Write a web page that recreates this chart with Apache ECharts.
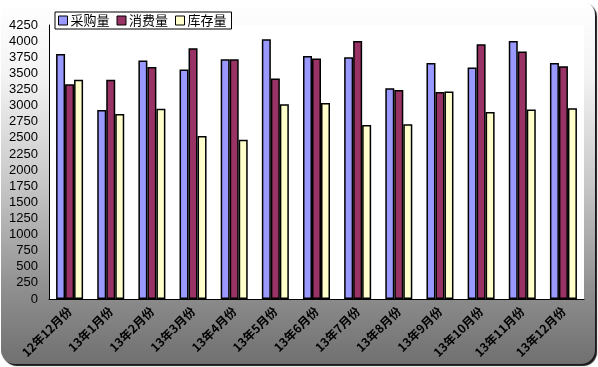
<!DOCTYPE html>
<html><head><meta charset="utf-8">
<script src="https://cdn.jsdelivr.net/npm/echarts@6/dist/echarts.min.js"></script>
<style>html,body{margin:0;padding:0;background:#fff}#c{width:598px;height:367px}</style>
</head><body><div id="c"></div>
<script>
const categories = ['12年12月份','13年1月份','13年2月份','13年3月份','13年4月份','13年5月份','13年6月份','13年7月份','13年8月份','13年9月份','13年10月份','13年11月份','13年12月份'];
const purchase = [3800,2930,3700,3560,3720,4030,3770,3750,3270,3660,3590,4000,3660];
const consume = [3330,3400,3600,3890,3720,3420,3730,4000,3240,3210,3950,3840,3610];
const stock = [3400,2870,2950,2530,2470,3020,3040,2700,2710,3220,2900,2940,2960];
const seriesNames = ['采购量','消费量','库存量'];
const colors = ['#9999FF','#993366','#FFFFCC'];

const chart = echarts.init(document.getElementById('c'));
const font = '"Noto Sans CJK SC", "Liberation Sans", sans-serif';
chart.setOption({
  backgroundColor: '#ffffff',
  animation: false,
  graphic: [{
    type: 'rect', z: -10, silent: true,
    shape: {x: 1, y: 1, width: 594, height: 363, r: 14},
    style: {
      fill: new echarts.graphic.LinearGradient(0, 0, 0, 1, [
        {offset: 0, color: '#ffffff'},
        {offset: 0.2, color: '#f4f4f4'},
        {offset: 0.5, color: '#c8c8c8'},
        {offset: 0.8, color: '#8e8e8e'},
        {offset: 1, color: '#707070'}
      ]),
      shadowColor: 'rgba(0,0,0,0.9)', shadowOffsetX: 2, shadowOffsetY: 2, shadowBlur: 1
    }
  }],
  legend: {
    left: 55, top: 12,
    data: seriesNames,
    itemWidth: 9, itemHeight: 9, itemGap: 7,
    icon: 'rect',
    borderColor: '#000', borderWidth: 1, padding: [2, 5, 2, 3],
    backgroundColor: '#fff',
    textStyle: {fontFamily: font, fontSize: 13, color: '#000', padding: [0,0,0,-2]},
    itemStyle: {borderColor: '#000', borderWidth: 1}
  },
  grid: {left: 49, right: 14, top: 25, bottom: 68, show: true, backgroundColor: '#fff', borderWidth: 0},
  xAxis: {
    type: 'category', data: categories,
    axisLine: {lineStyle: {color: '#000', width: 1}},
    axisTick: {inside: true, length: 4, lineStyle: {color: '#000'}},
    axisLabel: {rotate: 45, interval: 0, fontFamily: font, fontSize: 12, fontWeight: 'bold', color: '#000', margin: 10}
  },
  yAxis: {
    type: 'value', min: 0, max: 4250, interval: 250,
    axisLine: {show: true, lineStyle: {color: '#000', width: 1}},
    axisTick: {show: false},
    splitLine: {show: false},
    axisLabel: {fontFamily: '"Liberation Sans", sans-serif', fontSize: 13, color: '#000', margin: 11, formatter: v => String(v)}
  },
  series: [purchase, consume, stock].map((d, i) => ({
    name: seriesNames[i], type: 'bar', data: d,
    barWidth: 9, barGap: '0%',
    itemStyle: {color: colors[i], borderColor: '#000', borderWidth: 1.5}
  }))
});
</script></body></html>
